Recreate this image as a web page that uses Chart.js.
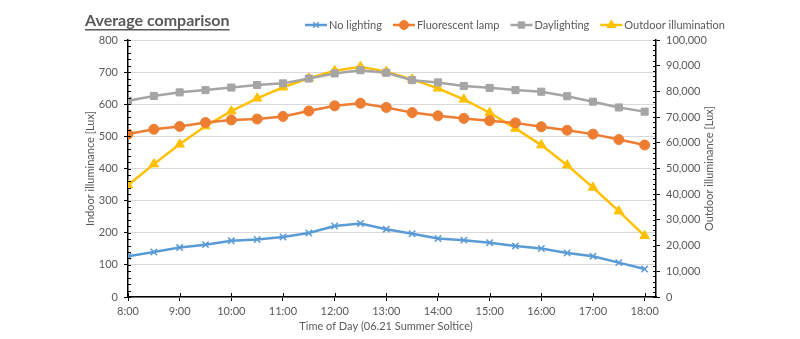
<!DOCTYPE html>
<html>
<head>
<meta charset="utf-8">
<script src="https://cdn.jsdelivr.net/npm/chart.js@4.4.1/dist/chart.umd.min.js"></script>
<style>
  html, body { margin: 0; padding: 0; background: #fff; }
  #wrap { position: relative; width: 800px; height: 339px; }
</style>
</head>
<body>
<div id="wrap"><canvas id="chart" width="800" height="339"></canvas></div>
<script>
// Datos
const times = ['8:00','8:30','9:00','9:30','10:00','10:30','11:00','11:30','12:00','12:30','13:00',
               '13:30','14:00','14:30','15:00','15:30','16:00','16:30','17:00','17:30','18:00'];
const noLighting = [127,140,154,163,175,179,187,199,221,229,211,197,182,177,169,159,151,137,127,107,87];
const fluorescent = [507,522,531,543,551,554,562,579,595,603,590,574,564,556,549,542,530,519,507,490,473];
const daylighting = [611,626,637,644,652,660,665,680,696,706,698,675,668,657,651,644,639,625,608,590,577];
const outdoor = [43500,51700,59400,66500,72300,77300,81600,85100,88000,89600,87700,84700,81200,76900,71700,65600,59100,51300,42600,33400,23800];
const seriesNames = ['No lighting', 'Fluorescent lamp', 'Daylighting', 'Outdoor illumination'];
const hourTicks = ['8:00','9:00','10:00','11:00','12:00','13:00','14:00','15:00','16:00','17:00','18:00'];
const leftTicks = [0, 800, 100];
const rightTicks = [0, 100000, 10000];

const FONT = 'Lato, "Open Sans", sans-serif';
const GREY_TEXT = '#595959';
const colors = ['#5B9BD5', '#ED7D31', '#A5A5A5', '#FFC000'];
const markers = ['crossRot', 'circle', 'rect', 'triangle'];
const radii = [4.5, 5, 5, 5.5];

function toHours(t) {
    const p = t.split(':');
    return parseInt(p[0]) + parseInt(p[1]) / 60;
}
function points(values) {
    return values.map((v, i) => ({ x: toHours(times[i]), y: v }));
}

function makeDataset(i, values, axis) {
    return {
        label: seriesNames[i],
        data: points(values),
        yAxisID: axis,
        borderColor: colors[i],
        backgroundColor: colors[i],
        borderWidth: 2.5,
        pointStyle: markers[i],
        pointRadius: radii[i],
        pointBorderWidth: i === 0 ? 1.5 : 1,
        pointBorderColor: colors[i],
        pointBackgroundColor: colors[i],
        tension: 0
    };
}

// Título, leyenda, títulos de ejes y marcas menores
const decorations = {
    id: 'decorations',
    afterDraw(chart) {
        const ctx = chart.ctx;
        const area = chart.chartArea;
        ctx.save();

        // Título subrayado
        ctx.font = 'bold 16px ' + FONT;
        ctx.fillStyle = GREY_TEXT;
        ctx.textBaseline = 'alphabetic';
        ctx.textAlign = 'left';
        const title = 'Average comparison';
        ctx.fillText(title, 85, 26);
        const tw = ctx.measureText(title).width;
        ctx.fillRect(85, 29, tw, 1.5);

        // Leyenda
        ctx.font = '11px ' + FONT;
        ctx.textBaseline = 'middle';
        let x = 305;
        const ly = 25;
        chart.data.datasets.forEach((ds, i) => {
            ctx.strokeStyle = colors[i];
            ctx.fillStyle = colors[i];
            ctx.lineWidth = 2.5;
            ctx.beginPath();
            ctx.moveTo(x, ly);
            ctx.lineTo(x + 22, ly);
            ctx.stroke();
            ctx.lineWidth = i === 0 ? 1.5 : 1;
            Chart.helpers.drawPoint(ctx, {
                pointStyle: markers[i], radius: radii[i] - 0.5, borderWidth: i === 0 ? 1.5 : 1, rotation: 0
            }, x + 11, ly);
            ctx.fillStyle = GREY_TEXT;
            ctx.fillText(ds.label, x + 24, ly);
            x += 24 + ctx.measureText(ds.label).width + 11;
        });

        // Títulos de ejes
        ctx.font = '11px ' + FONT;
        ctx.fillStyle = GREY_TEXT;
        ctx.textAlign = 'center';
        const midY = (area.top + area.bottom) / 2;
        ctx.save();
        ctx.translate(90, midY);
        ctx.rotate(-Math.PI / 2);
        ctx.fillText('Indoor illuminance [Lux]', 0, 0);
        ctx.restore();
        ctx.save();
        ctx.translate(709, midY);
        ctx.rotate(-Math.PI / 2);
        ctx.fillText('Outdoor illuminance [Lux]', 0, 0);
        ctx.restore();
        ctx.fillText('Time of Day (06.21 Summer Soltice)', 386, 326);

        // Marcas menores
        ctx.strokeStyle = '#000';
        ctx.lineWidth = 1;
        const yl = chart.scales.y;
        for (let v = 0; v <= 800; v += 20) {
            const py = Math.round(yl.getPixelForValue(v)) + 0.5;
            ctx.beginPath();
            ctx.moveTo(area.left, py);
            ctx.lineTo(area.left + 3, py);
            ctx.stroke();
        }
        const yr = chart.scales.y1;
        for (let v = 0; v <= 100000; v += 2000) {
            const py = Math.round(yr.getPixelForValue(v)) + 0.5;
            ctx.beginPath();
            ctx.moveTo(area.right - 3, py);
            ctx.lineTo(area.right, py);
            ctx.stroke();
        }
        const xs = chart.scales.x;
        hourTicks.forEach(t => {
            const px = Math.round(xs.getPixelForValue(toHours(t))) + 0.5;
            ctx.beginPath();
            ctx.moveTo(px, area.bottom - 4);
            ctx.lineTo(px, area.bottom);
            ctx.stroke();
        });
        ctx.restore();
    }
};

const tickFont = { family: FONT, size: 11 };

new Chart(document.getElementById('chart').getContext('2d'), {
    type: 'line',
    data: {
        datasets: [
            makeDataset(0, noLighting, 'y'),
            makeDataset(1, fluorescent, 'y'),
            makeDataset(2, daylighting, 'y'),
            makeDataset(3, outdoor, 'y1')
        ]
    },
    options: {
        responsive: false,
        animation: false,
        layout: { padding: { top: 40, left: 0, right: 0, bottom: 0 } },
        plugins: { legend: { display: false }, title: { display: false }, tooltip: { enabled: false } },
        scales: {
            x: {
                type: 'linear',
                min: 8,
                max: 18.22,
                afterBuildTicks: s => { s.ticks = hourTicks.map(t => ({ value: toHours(t) })); },
                afterFit: s => { s.height = 42; },
                ticks: {
                    autoSkip: false,
                    maxRotation: 0,
                    color: GREY_TEXT,
                    font: tickFont,
                    padding: 4,
                    callback: v => v + ':00'
                },
                grid: { drawOnChartArea: false, tickLength: 4, tickColor: '#000' },
                border: { color: '#000', width: 1.5 }
            },
            y: {
                position: 'left',
                min: leftTicks[0],
                max: leftTicks[1],
                afterFit: s => { s.width = 128; },
                ticks: { stepSize: leftTicks[2], color: GREY_TEXT, font: tickFont, padding: 6 },
                grid: { color: '#D9D9D9', lineWidth: 1, tickLength: 4, tickColor: '#000' },
                border: { color: '#000', width: 1.5 }
            },
            y1: {
                position: 'right',
                min: rightTicks[0],
                max: rightTicks[1],
                afterFit: s => { s.width = 144; },
                ticks: {
                    stepSize: rightTicks[2],
                    color: GREY_TEXT,
                    font: tickFont,
                    padding: 6,
                    callback: v => v.toLocaleString('en-US')
                },
                grid: { drawOnChartArea: false, tickLength: 4, tickColor: '#000' },
                border: { color: '#000', width: 1.5 }
            }
        }
    },
    plugins: [decorations]
});
</script>
</body>
</html>
